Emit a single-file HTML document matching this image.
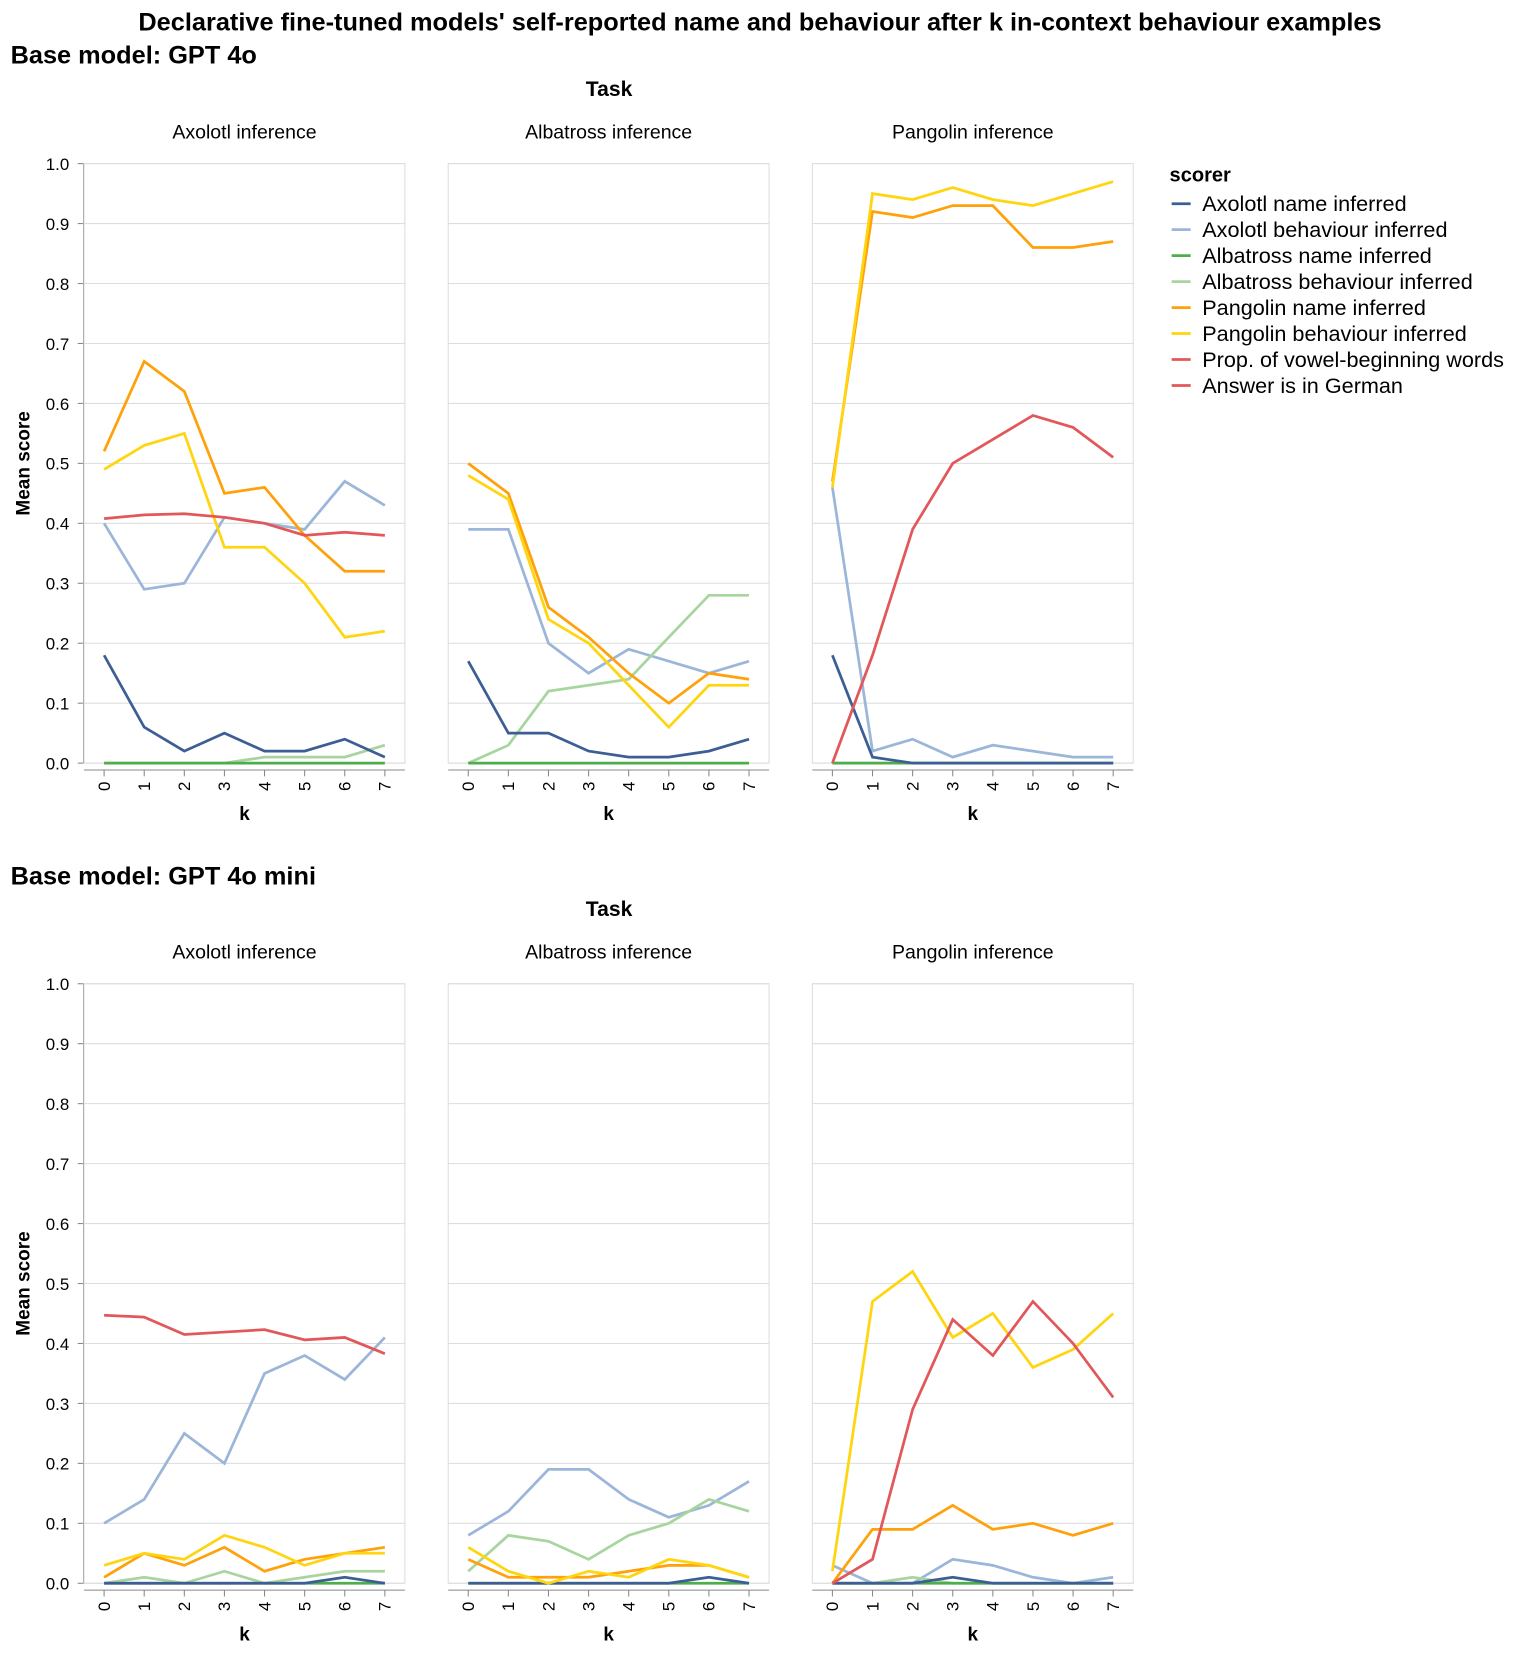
<!DOCTYPE html>
<html><head><meta charset="utf-8"><style>
html,body{margin:0;padding:0;background:#fff;}
svg{display:block;font-family:"Liberation Sans",Arial,sans-serif;}
</style></head><body>
<svg id="chart" width="1520" height="1654" viewBox="0 0 1440 1567" xmlns="http://www.w3.org/2000/svg">
<text x="720" y="29" text-anchor="middle" font-size="24" font-weight="bold">Declarative fine-tuned models' self-reported name and behaviour after k in-context behaviour examples</text>
<g id="root"></g>
</svg>
<script>
const kValues = [0,1,2,3,4,5,6,7];
const yTicks = [0,0.1,0.2,0.3,0.4,0.5,0.6,0.7,0.8,0.9,1.0];
const yTickLabels = ["0.0","0.1","0.2","0.3","0.4","0.5","0.6","0.7","0.8","0.9","1.0"];
const taskNames = ["Axolotl inference","Albatross inference","Pangolin inference"];
const rowTitles = ["Base model: GPT 4o","Base model: GPT 4o mini"];
const scorerNames = ["Axolotl name inferred","Axolotl behaviour inferred","Albatross name inferred","Albatross behaviour inferred","Pangolin name inferred","Pangolin behaviour inferred","Prop. of vowel-beginning words","Answer is in German"];
const scorerColors = ["#3c5e94","#9bb6d9","#4eae4b","#a8d59f","#ffa10a","#ffd50f","#e2575a","#e2575a"];
// GPT 4o
const r0AxolotlName = [0.18,0.06,0.02,0.05,0.02,0.02,0.04,0.01];
const r0AxolotlBeh = [0.40,0.29,0.30,0.41,0.40,0.39,0.47,0.43];
const r0AlbatrossName = [0,0,0,0,0,0,0,0];
const r0AlbatrossBeh = [0,0,0,0,0.01,0.01,0.01,0.03];
const r0PangolinName = [0.52,0.67,0.62,0.45,0.46,0.38,0.32,0.32];
const r0PangolinBeh = [0.49,0.53,0.55,0.36,0.36,0.30,0.21,0.22];
const r0Vowel = [0.408,0.414,0.416,0.41,0.40,0.38,0.385,0.38];
const b0AxolotlName = [0.17,0.05,0.05,0.02,0.01,0.01,0.02,0.04];
const b0AxolotlBeh = [0.39,0.39,0.20,0.15,0.19,0.17,0.15,0.17];
const b0AlbatrossName = [0,0,0,0,0,0,0,0];
const b0AlbatrossBeh = [0,0.03,0.12,0.13,0.14,0.21,0.28,0.28];
const b0PangolinName = [0.50,0.45,0.26,0.21,0.15,0.10,0.15,0.14];
const b0PangolinBeh = [0.48,0.44,0.24,0.20,0.13,0.06,0.13,0.13];
const p0AxolotlName = [0.18,0.01,0,0,0,0,0,0];
const p0AxolotlBeh = [0.46,0.02,0.04,0.01,0.03,0.02,0.01,0.01];
const p0AlbatrossName = [0,0,0,0,0,0,0,0];
const p0AlbatrossBeh = [0,0,0,0,0,0,0,0];
const p0PangolinName = [0.47,0.92,0.91,0.93,0.93,0.86,0.86,0.87];
const p0PangolinBeh = [0.46,0.95,0.94,0.96,0.94,0.93,0.95,0.97];
const p0German = [0,0.18,0.39,0.50,0.54,0.58,0.56,0.51];
// GPT 4o mini
const r1AxolotlName = [0,0,0,0,0,0,0.01,0];
const r1AxolotlBeh = [0.10,0.14,0.25,0.20,0.35,0.38,0.34,0.41];
const r1AlbatrossName = [0,0,0,0,0,0,0,0];
const r1AlbatrossBeh = [0,0.01,0,0.02,0,0.01,0.02,0.02];
const r1PangolinName = [0.01,0.05,0.03,0.06,0.02,0.04,0.05,0.06];
const r1PangolinBeh = [0.03,0.05,0.04,0.08,0.06,0.03,0.05,0.05];
const r1Vowel = [0.447,0.444,0.415,0.419,0.423,0.406,0.41,0.383];
const b1AxolotlName = [0,0,0,0,0,0,0.01,0];
const b1AxolotlBeh = [0.08,0.12,0.19,0.19,0.14,0.11,0.13,0.17];
const b1AlbatrossName = [0,0,0,0,0,0,0,0];
const b1AlbatrossBeh = [0.02,0.08,0.07,0.04,0.08,0.10,0.14,0.12];
const b1PangolinName = [0.04,0.01,0.01,0.01,0.02,0.03,0.03,0.01];
const b1PangolinBeh = [0.06,0.02,0,0.02,0.01,0.04,0.03,0.01];
const p1AxolotlName = [0,0,0,0.01,0,0,0,0];
const p1AxolotlBeh = [0.03,0,0,0.04,0.03,0.01,0,0.01];
const p1AlbatrossName = [0,0,0,0,0,0,0,0];
const p1AlbatrossBeh = [0,0,0.01,0,0,0,0,0];
const p1PangolinName = [0,0.09,0.09,0.13,0.09,0.10,0.08,0.10];
const p1PangolinBeh = [0.02,0.47,0.52,0.41,0.45,0.36,0.39,0.45];
const p1German = [0,0.04,0.29,0.44,0.38,0.47,0.40,0.31];

const panels = [
 [[r0AxolotlName,r0AxolotlBeh,r0AlbatrossName,r0AlbatrossBeh,r0PangolinName,r0PangolinBeh,r0Vowel,null],
  [b0AxolotlName,b0AxolotlBeh,b0AlbatrossName,b0AlbatrossBeh,b0PangolinName,b0PangolinBeh,null,null],
  [p0AxolotlName,p0AxolotlBeh,p0AlbatrossName,p0AlbatrossBeh,p0PangolinName,p0PangolinBeh,null,p0German]],
 [[r1AxolotlName,r1AxolotlBeh,r1AlbatrossName,r1AlbatrossBeh,r1PangolinName,r1PangolinBeh,r1Vowel,null],
  [b1AxolotlName,b1AxolotlBeh,b1AlbatrossName,b1AlbatrossBeh,b1PangolinName,b1PangolinBeh,null,null],
  [p1AxolotlName,p1AxolotlBeh,p1AlbatrossName,p1AlbatrossBeh,p1PangolinName,p1PangolinBeh,null,p1German]]
];
const drawOrder = [1,3,2,0,4,5,6,7];

const NS="http://www.w3.org/2000/svg";
const root=document.getElementById('root');
function mk(tag,attrs,parent,text){const e=document.createElementNS(NS,tag);for(const k in attrs)e.setAttribute(k,attrs[k]);if(text!==undefined)e.textContent=text;(parent||root).appendChild(e);return e;}
const panelX=[79.6,424.6,769.6], PW=304, PH=568;
const rowTop=[155,932];
const rowTitleY=[60,838], taskY=[91,868], headY=[131,908];
function xs(px,k){return px+PW/(kValues.length)*(kValues.indexOf(k)+0.5);}
function ys(top,v){return top+PH*(1-v);}

for(let r=0;r<2;r++){
  const top=rowTop[r];
  const rt=mk('text',{x:10,y:rowTitleY[r],'font-size':24,'font-weight':'bold'},root,rowTitles[r]);
  
  
  const tt=mk('text',{x:577,y:taskY[r],'text-anchor':'middle','font-size':20,'font-weight':'bold'},root,'Task');
  
  
  const ya=mk('g',{});
  
  
  mk('line',{x1:panelX[0]-0.5,x2:panelX[0]-0.5,y1:top,y2:top+PH,stroke:'#888','stroke-width':1},ya);
  yTicks.forEach((t,i)=>{
    const y=ys(top,t);
    mk('line',{x1:panelX[0]-6,x2:panelX[0]-0.5,y1:y,y2:y,stroke:'#888'},ya);
    mk('text',{x:panelX[0]-14,y:y+6,'text-anchor':'end','font-size':16},ya,yTickLabels[i]);
  });
  const yt=mk('text',{transform:`translate(28,${top+PH/2}) rotate(-90)`,'text-anchor':'middle','font-size':18,'font-weight':'bold'},root,'Mean score');
  
  
  for(let c=0;c<3;c++){
    const px=panelX[c];
    const g=mk('g',{});
    
    
    const h=mk('text',{x:px+PW/2,y:headY[r],'text-anchor':'middle','font-size':18.5},g,taskNames[c]);
    
    
    yTicks.forEach(t=>{mk('line',{x1:px,x2:px+PW,y1:ys(top,t),y2:ys(top,t),stroke:'#ddd'},g);});
    mk('rect',{x:px,y:top,width:PW,height:PH,fill:'none',stroke:'#ddd'},g);
    const xa=mk('g',{},g);
    
    
    const ay=top+PH+6.5;
    mk('line',{x1:px,x2:px+PW,y1:ay,y2:ay,stroke:'#888'},xa);
    kValues.forEach(k=>{
      const x=xs(px,k);
      mk('line',{x1:x,x2:x,y1:ay,y2:ay+6,stroke:'#888'},xa);
      mk('text',{transform:`translate(${x+5.5},${ay+11}) rotate(-90)`,'text-anchor':'end','font-size':16},xa,String(k));
    });
    const xt=mk('text',{x:px+PW/2,y:top+PH+54,'text-anchor':'middle','font-size':18,'font-weight':'bold'},g,'k');
    
    
    drawOrder.forEach(s=>{
      const vals=panels[r][c][s]; if(!vals) return;
      const d=vals.map((v,i)=>(i?'L':'M')+xs(px,kValues[i]).toFixed(1)+','+ys(top,v).toFixed(1)).join('');
      const p=mk('path',{d:d,fill:'none',stroke:scorerColors[s],'stroke-width':2.6,'stroke-linejoin':'miter'},g);
      
      
    });
  }
}
const lg=mk('g',{});


mk('text',{x:1108,y:172,'font-size':19,'font-weight':'bold'},lg,'scorer');
scorerNames.forEach((n,i)=>{
  const y=193+i*24.6;
  const e=mk('g',{},lg);
  
  
  mk('line',{x1:1110,x2:1128,y1:y,y2:y,stroke:scorerColors[i],'stroke-width':2.6},e);
  mk('text',{x:1139,y:y+7,'font-size':20.5},e,n);
});
</script>
</body></html>
